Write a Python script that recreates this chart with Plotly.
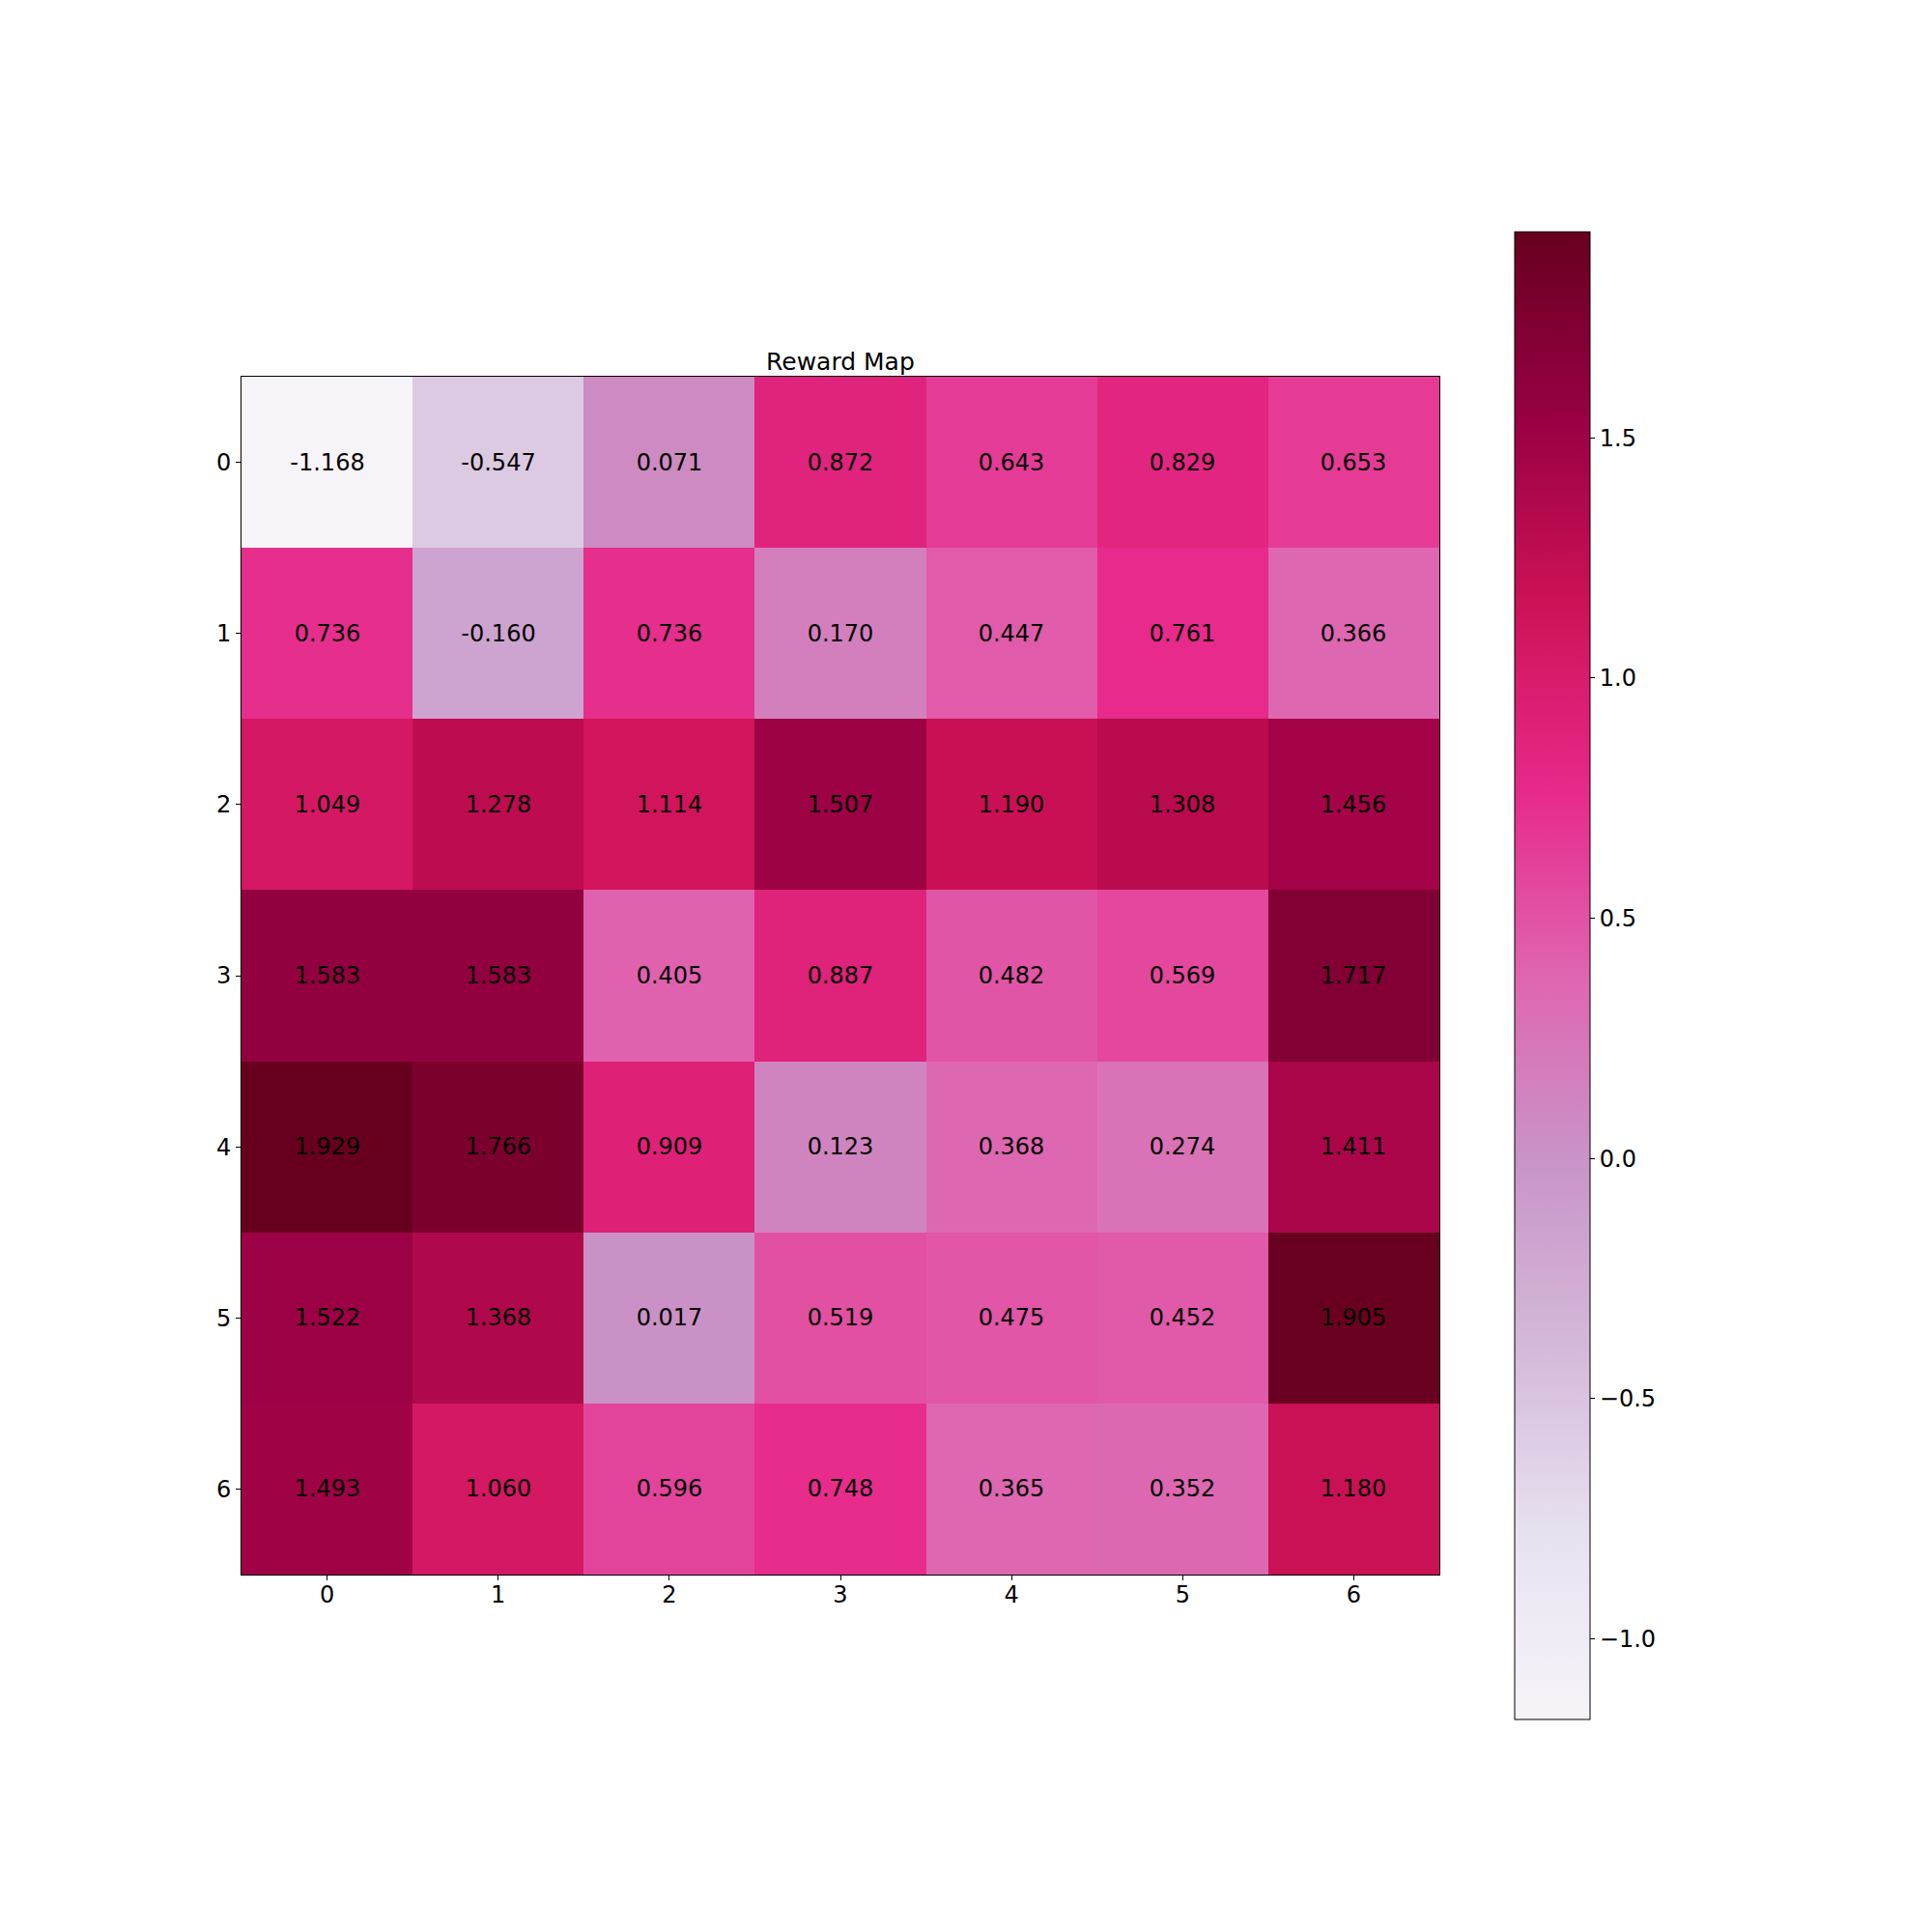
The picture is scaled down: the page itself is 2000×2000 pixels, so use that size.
import plotly.graph_objects as go

title = "Reward Map"
x_labels = [0, 1, 2, 3, 4, 5, 6]
y_labels = [0, 1, 2, 3, 4, 5, 6]
row0 = [-1.168, -0.547, 0.071, 0.872, 0.643, 0.829, 0.653]
row1 = [0.736, -0.160, 0.736, 0.170, 0.447, 0.761, 0.366]
row2 = [1.049, 1.278, 1.114, 1.507, 1.190, 1.308, 1.456]
row3 = [1.583, 1.583, 0.405, 0.887, 0.482, 0.569, 1.717]
row4 = [1.929, 1.766, 0.909, 0.123, 0.368, 0.274, 1.411]
row5 = [1.522, 1.368, 0.017, 0.519, 0.475, 0.452, 1.905]
row6 = [1.493, 1.060, 0.596, 0.748, 0.365, 0.352, 1.180]
z = [row0, row1, row2, row3, row4, row5, row6]
cbar_ticks = [-1.0, -0.5, 0.0, 0.5, 1.0, 1.5]
cbar_ticktext = ["\u22121.0", "\u22120.5", "0.0", "0.5", "1.0", "1.5"]

purd = ["#f7f4f9", "#e7e1ef", "#d4b9da", "#c994c7", "#df65b0",
        "#e7298a", "#ce1256", "#980043", "#67001f"]
colorscale = [[i / 8, c] for i, c in enumerate(purd)]

text = [[f"{v:.3f}" for v in row] for row in z]
zmin = min(min(r) for r in z)
zmax = max(max(r) for r in z)

FONT = "DejaVu Sans"
fig = go.Figure(go.Heatmap(
    z=z, x=x_labels, y=y_labels, text=text, texttemplate="%{text}",
    textfont=dict(family=FONT, size=24, color="black"),
    colorscale=colorscale, zmin=zmin, zmax=zmax,
    colorbar=dict(
        x=(1568 - 250) / 1240, xanchor="left", xpad=0, ypad=0,
        y=0.5, yanchor="middle", lenmode="pixels", len=1540,
        thickness=78, outlinewidth=1, outlinecolor="black",
        tickmode="array", tickvals=cbar_ticks, ticktext=cbar_ticktext,
        ticks="outside", ticklen=5, tickcolor="black",
        tickfont=dict(family=FONT, size=24, color="black"),
    ),
))

axis_common = dict(showline=True, mirror=True, linecolor="black", linewidth=1,
                   ticks="outside", ticklen=5, tickcolor="black",
                   tickfont=dict(family=FONT, size=24, color="black"),
                   showgrid=False, zeroline=False, tickmode="array")
fig.update_xaxes(tickvals=x_labels, ticktext=[str(v) for v in x_labels],
                 range=[-0.5, 6.5], ticklabelstandoff=-6, **axis_common)
fig.update_yaxes(tickvals=y_labels, ticktext=[str(v) for v in y_labels],
                 range=[6.5, -0.5], **axis_common)

fig.add_annotation(text=title, xref="paper", yref="paper", x=0.5, y=1,
                   xanchor="center", yanchor="bottom", yshift=-1, showarrow=False,
                   font=dict(family=FONT, size=25, color="black"))

fig.update_layout(width=2000, height=2000, autosize=False,
                  margin=dict(l=250, r=510, t=390, b=370),
                  paper_bgcolor="white", plot_bgcolor="white",
                  font=dict(family=FONT))
fig.write_html("out.html")
